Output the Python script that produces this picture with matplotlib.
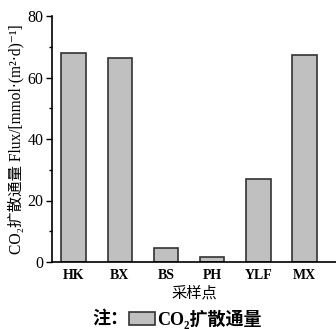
import matplotlib
matplotlib.use("Agg")
import matplotlib.pyplot as plt
from matplotlib.patches import Patch
from matplotlib.ticker import MultipleLocator

categories = ["HK", "BX", "BS", "PH", "YLF", "MX"]
flux = [68.0, 66.5, 4.5, 1.7, 27.0, 67.2]
yticks = [0, 20, 40, 60, 80]

fam = ["Liberation Serif", "Noto Sans CJK SC", "DejaVu Serif"]
plt.rcParams["font.family"] = fam

fig = plt.figure(figsize=(3.36, 3.29), dpi=100)
ax = fig.add_axes([52/336, 1-262/329, 1-52/336, (262-16)/329])
x = list(range(len(categories)))
ax.bar(x, flux, width=0.53, color="#c0c0c0", edgecolor="#333333", linewidth=1.2)
ax.set_xlim(-0.47, 5.68)
ax.set_ylim(0, 80)
ax.set_yticks(yticks)
ax.yaxis.set_minor_locator(MultipleLocator(10))
ax.set_xticks(x)
ax.set_xticklabels(categories, fontsize=10, fontweight="bold")
ax.tick_params(axis="x", length=0, pad=5)
ax.tick_params(axis="y", which="major", length=4, width=1, labelsize=11.5, pad=2)
ax.tick_params(axis="y", which="minor", length=2, width=1)
for s in ["top", "right"]:
    ax.spines[s].set_visible(False)
for s in ["left", "bottom"]:
    ax.spines[s].set_linewidth(1.2)
ax.set_ylabel("CO₂扩散通量 Flux/[mmol·(m²·d)⁻¹]", fontsize=11.2, labelpad=2)
ax.set_xlabel("采样点", fontsize=11, labelpad=3)

fig.text(92/336, 1-319/329, "注：", fontsize=13, fontweight="bold", ha="left", va="center")
leg = fig.legend(handles=[Patch(facecolor="#c0c0c0", edgecolor="#333333", linewidth=1.2)],
                 labels=["CO₂扩散通量"], loc="center left",
                 bbox_to_anchor=(129/336, 1-319/329), frameon=False,
                 prop={"size": 13, "weight": "bold", "family": fam},
                 handlelength=1.45, handleheight=0.72, handletextpad=0.1, borderpad=0,
                 borderaxespad=0)

fig.savefig("out.png", dpi=100)
